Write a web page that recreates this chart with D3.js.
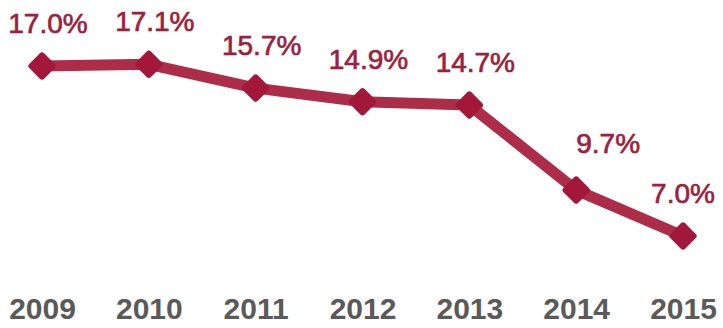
<!DOCTYPE html>
<html>
<head>
<meta charset="utf-8">
<script src="https://cdn.jsdelivr.net/npm/d3@7"></script>
<style>
  body { margin: 0; background: #fff; }
</style>
</head>
<body>
<div id="chart"></div>
<script>
const years = ["2009", "2010", "2011", "2012", "2013", "2014", "2015"]
const values = [17.0, 17.1, 15.7, 14.9, 14.7, 9.7, 7.0]
const labels = ["17.0%", "17.1%", "15.7%", "14.9%", "14.7%", "9.7%", "7.0%"]

const width = 723
const height = 328

const svg = d3.select("#chart")
    .append("svg")
    .attr("width", width)
    .attr("height", height)

const xScale = d3.scalePoint()
    .domain(years)
    .range([42, 683])

const yScale = d3.scaleLinear()
    .domain([0, 20])
    .range([355, 15])

const data = years.map((y, i) => ({ year: y, value: values[i], label: labels[i] }))

// label nudges (the 2014 label sits off to the right in the original)
const nudge = { "2009": 6, "2010": 6, "2011": 6, "2012": 6, "2013": 6, "2014": 32, "2015": 0 }

const line = d3.line()
    .x(d => xScale(d.year))
    .y(d => yScale(d.value))

svg.append("path")
    .datum(data)
    .attr("d", line)
    .attr("fill", "none")
    .attr("stroke", "#ad2c47")
    .attr("stroke-width", 11)
    .attr("stroke-linejoin", "round")

svg.append("g")
    .selectAll("rect")
    .data(data)
    .join("rect")
    .attr("x", -10.5)
    .attr("y", -10.5)
    .attr("width", 21)
    .attr("height", 21)
    .attr("rx", 3)
    .attr("fill", "#a3173a")
    .attr("transform", d => `translate(${xScale(d.year)},${yScale(d.value)}) rotate(45)`)

svg.append("g")
    .selectAll("text")
    .data(data)
    .join("text")
    .attr("x", d => xScale(d.year) + nudge[d.year])
    .attr("y", d => yScale(d.value) - (d.year === "2014" ? 37 : 33))
    .attr("text-anchor", "middle")
    .style("font-family", "'Liberation Sans', Arial, sans-serif")
    .style("font-size", "28px")
    .style("fill", "#9b1f40")
    .style("stroke", "#9b1f40")
    .style("stroke-width", 0.7)
    .text(d => d.label)

const xAxis = d3.axisBottom(xScale).tickSize(0).tickPadding(0)

const axisG = svg.append("g")
    .attr("transform", "translate(0, 297)")
    .call(xAxis)

axisG.select(".domain").remove()
axisG.selectAll("text")
    .attr("dy", "0.72em")
    .style("font-family", "'Liberation Sans', Arial, sans-serif")
    .style("font-size", "30px")
    .style("font-weight", "bold")
    .style("fill", "#5a5a5a")
</script>
</body>
</html>
